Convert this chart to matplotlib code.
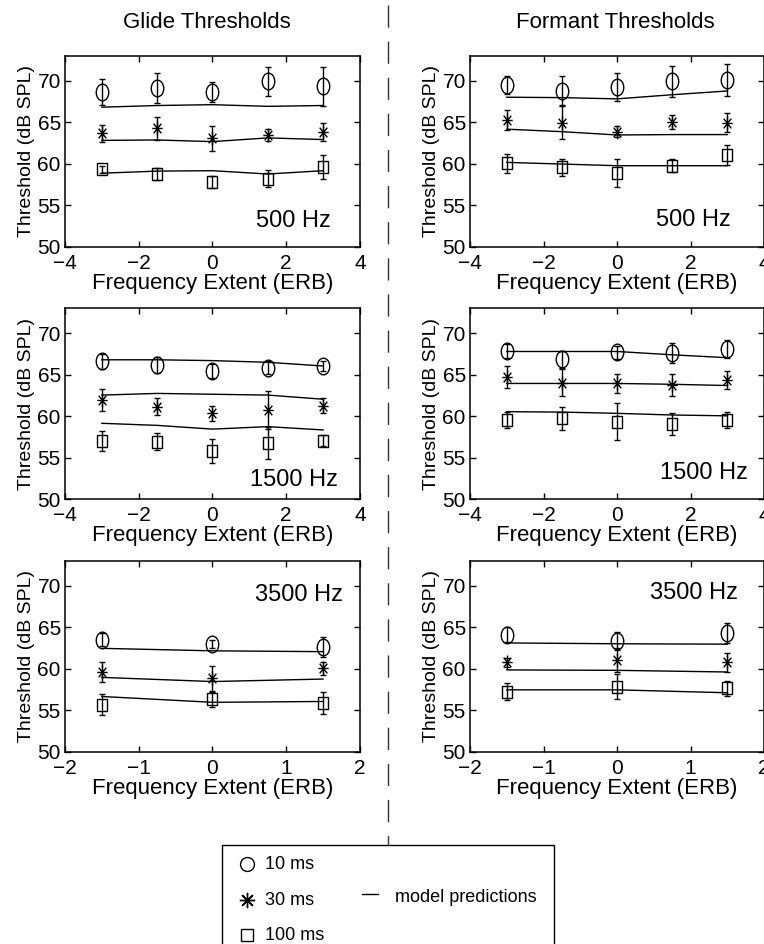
import matplotlib
matplotlib.use('Agg')
import matplotlib.pyplot as plt
from matplotlib.path import Path
from matplotlib.transforms import Affine2D
from matplotlib.lines import Line2D
from matplotlib.patches import Rectangle

plt.rcParams['font.family'] = ['Liberation Sans', 'DejaVu Sans']

durations = ['10 ms', '30 ms', '100 ms']
x_wide = [-3, -1.5, 0, 1.5, 3]
x_narrow = [-1.5, 0, 1.5]

# rows: 10 ms, 30 ms, 100 ms
glide_500_mean = [[68.6, 69.1, 68.6, 69.9, 69.3], [63.65, 64.25, 63.05, 63.45, 63.85], [59.3, 58.75, 57.8, 58.2, 59.6]]
glide_500_err = [[1.55, 1.8, 1.2, 1.75, 2.3], [1.0, 1.35, 1.5, 0.7, 1.1], [0.4, 0.75, 0.75, 1.0, 1.4]]
glide_500_model = [[66.8, 67.0, 67.1, 66.9, 67.0], [62.8, 62.85, 62.65, 63.1, 62.9], [58.85, 59.1, 59.15, 58.75, 59.15]]

formant_500_mean = [[69.5, 68.8, 69.2, 69.9, 70.1], [65.25, 64.95, 63.85, 65.05, 64.95], [60.05, 59.55, 58.9, 59.75, 61.05]]
formant_500_err = [[1.1, 1.7, 1.7, 1.85, 1.9], [1.25, 2.0, 0.7, 0.85, 1.1], [1.15, 1.0, 1.7, 0.8, 1.25]]
formant_500_model = [[68.0, 67.95, 67.8, 68.3, 68.75], [64.15, 63.85, 63.45, 63.5, 63.5], [60.15, 59.95, 59.75, 59.75, 59.75]]

glide_1500_mean = [[66.65, 66.2, 65.45, 65.85, 66.05], [61.95, 61.15, 60.35, 60.75, 61.25], [57.05, 56.95, 55.85, 56.8, 57.05]]
glide_1500_err = [[0.9, 0.95, 0.8, 0.75, 0.55], [1.3, 1.05, 0.9, 2.25, 0.9], [1.2, 1.05, 1.45, 1.95, 0.65]]
glide_1500_model = [[66.8, 66.8, 66.7, 66.5, 66.05], [62.55, 62.75, 62.65, 62.55, 62.05], [59.15, 58.9, 58.45, 58.75, 58.35]]

formant_1500_mean = [[67.85, 66.85, 67.7, 67.65, 68.1], [64.7, 64.05, 63.95, 63.75, 64.4], [59.55, 59.75, 59.35, 59.1, 59.55]]
formant_1500_err = [[0.8, 1.05, 0.8, 1.2, 1.05], [1.35, 1.6, 1.1, 1.35, 1.1], [1.0, 1.35, 2.25, 1.3, 1.0]]
formant_1500_model = [[67.8, 67.8, 67.8, 67.4, 67.05], [63.95, 63.95, 63.95, 63.85, 63.7], [60.55, 60.5, 60.35, 60.15, 60.05]]

glide_3500_mean = [[63.5, 63.0, 62.6], [59.65, 58.85, 60.05], [55.65, 56.3, 55.85]]
glide_3500_err = [[0.75, 0.5, 1.25], [1.2, 1.5, 0.8], [1.25, 0.9, 1.35]]
glide_3500_model = [[62.45, 62.15, 62.05], [58.95, 58.45, 58.75], [56.65, 55.95, 56.05]]

formant_3500_mean = [[64.1, 63.3, 64.3], [60.75, 61.05, 60.75], [57.25, 57.85, 57.65]]
formant_3500_err = [[0.9, 1.1, 1.25], [0.5, 1.45, 1.1], [1.0, 1.5, 0.9]]
formant_3500_model = [[63.1, 63.0, 62.95], [59.85, 59.8, 59.6], [57.45, 57.45, 57.1]]

# MATLAB-ish markers (slightly taller than wide in the plots)
ellipse = Path.unit_circle().transformed(Affine2D().scale(0.75, 1.0))
square = Path([(-0.4, -0.5), (0.4, -0.5), (0.4, 0.5), (-0.4, 0.5), (-0.4, -0.5)],
              [Path.MOVETO, Path.LINETO, Path.LINETO, Path.LINETO, Path.CLOSEPOLY])
star = Path([(0, -1), (0, 1), (-0.75, 0), (0.75, 0), (-0.55, -0.7), (0.55, 0.7), (-0.55, 0.7), (0.55, -0.7)],
            [Path.MOVETO, Path.LINETO] * 4)
markers = [(ellipse, 12), (star, 10), (square, 9)]
legend_markers = [('o', 10), ((8, 2, 0), 11), ('s', 8.5)]

fig = plt.figure(figsize=(7.64, 9.44), dpi=100)

panels = [
    # x, means, errs, model, rect, label, label pos, x limit
    (x_wide, glide_500_mean, glide_500_err, glide_500_model, [0.0851, 0.7387, 0.386, 0.2023], '500 Hz', (0.90, 0.136), 4),
    (x_wide, formant_500_mean, formant_500_err, formant_500_model, [0.6152, 0.7387, 0.385, 0.2023], '500 Hz', (0.887, 0.14), 4),
    (x_wide, glide_1500_mean, glide_1500_err, glide_1500_model, [0.0851, 0.4711, 0.386, 0.2023], '1500 Hz', (0.925, 0.10), 4),
    (x_wide, formant_1500_mean, formant_1500_err, formant_1500_model, [0.6152, 0.4711, 0.385, 0.2023], '1500 Hz', (0.946, 0.138), 4),
    (x_narrow, glide_3500_mean, glide_3500_err, glide_3500_model, [0.0851, 0.2037, 0.386, 0.2023], '3500 Hz', (0.943, 0.82), 2),
    (x_narrow, formant_3500_mean, formant_3500_err, formant_3500_model, [0.6152, 0.2037, 0.385, 0.2023], '3500 Hz', (0.912, 0.83), 2),
]

for xs, means, errs, model, rect, label, lpos, xmax in panels:
    ax = fig.add_axes(rect)
    for i in range(3):
        ax.errorbar(xs, means[i], yerr=errs[i], fmt='none', ecolor='k', elinewidth=1, capsize=2.5, capthick=1)
        ax.plot(xs, means[i], linestyle='none', marker=markers[i][0], markersize=markers[i][1],
                mfc='none', mec='k', mew=1)
        ax.plot(xs, model[i], color='k', lw=1)
    ax.set_xlim(-xmax, xmax)
    ax.set_ylim(50, 73)
    ax.set_yticks([50, 55, 60, 65, 70])
    if xmax == 4:
        ax.set_xticks([-4, -2, 0, 2, 4])
    else:
        ax.set_xticks([-2, -1, 0, 1, 2])
    ax.tick_params(direction='in', top=True, right=True, length=4, width=1, labelsize=15, pad=3)
    ax.tick_params(axis='x', pad=5)
    for s in ax.spines.values():
        s.set_linewidth(1.1)
    ax.set_xlabel('Frequency Extent (ERB)', fontsize=16, labelpad=0)
    ax.set_ylabel('Threshold (dB SPL)', fontsize=14, labelpad=2)
    ax.text(lpos[0], lpos[1], label, transform=ax.transAxes, ha='right', va='center', fontsize=17)

fig.text(0.271, 0.976, 'Glide Thresholds', ha='center', va='center', fontsize=16)
fig.text(0.806, 0.976, 'Formant Thresholds', ha='center', va='center', fontsize=16)

# dashed divider between columns
fig.add_artist(Line2D([0.508, 0.508], [0.995, 0.105], transform=fig.transFigure,
                      color='0.2', lw=1, linestyle=(0, (16, 10))))

# legend box
fig.add_artist(Rectangle((0.2906, -0.02), 0.4345, 0.1249, transform=fig.transFigure,
                         fill=False, edgecolor='k', lw=1))
leg_y = [0.0847, 0.0466, 0.0095]
for i in range(3):
    fig.add_artist(Line2D([0.3233], [leg_y[i]], transform=fig.transFigure, linestyle='none',
                          marker=legend_markers[i][0], markersize=legend_markers[i][1],
                          mfc='none', mec='k', mew=1))
    fig.text(0.3469, leg_y[i], durations[i], ha='left', va='center', fontsize=13)
fig.add_artist(Line2D([0.4738, 0.4948], [0.0530, 0.0530], transform=fig.transFigure, color='k', lw=1))
fig.text(0.517, 0.0490, 'model predictions', ha='left', va='center', fontsize=13)

fig.savefig('out.png', dpi=100)
